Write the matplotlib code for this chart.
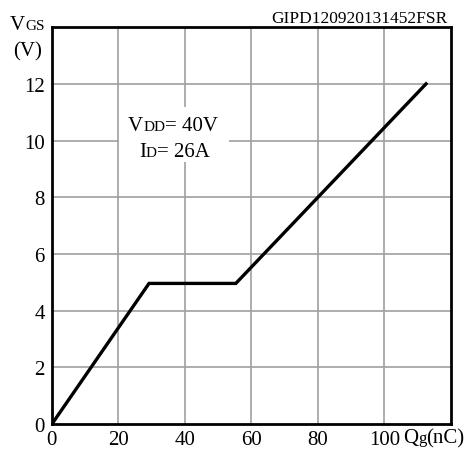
import matplotlib
matplotlib.use('Agg')
import matplotlib.pyplot as plt
from matplotlib.patches import Rectangle

plt.rcParams['font.family'] = ['Liberation Serif', 'DejaVu Serif']

# gate charge curve (Qg in nC, Vgs in V)
qg = [0, 29.2, 55.3, 112.5]
vgs = [0, 4.96, 4.96, 12.0]

x_ticks = [0, 20, 40, 60, 80, 100]
y_ticks = [0, 2, 4, 6, 8, 10, 12]
grid_x = [20, 40, 60, 80, 100]
grid_y = [2, 4, 6, 8, 10, 12]

fig = plt.figure(figsize=(4.72, 4.52), dpi=100)
ax = fig.add_axes([0.110, 0.0597, 0.8455, 0.878])
ax.set_xlim(0, 120)
ax.set_ylim(0, 14)

for gx in grid_x:
    ax.axvline(gx, color='#a0a0a0', lw=1.2, zorder=1)
for gy in grid_y:
    ax.axhline(gy, color='#a0a0a0', lw=1.2, zorder=1)

# white box behind the annotation
ax.add_patch(Rectangle((20.15, 9.25), 33.0, 1.95, facecolor='white',
                       edgecolor='none', zorder=2))

ax.plot(qg, vgs, color='black', lw=2.4, zorder=3, solid_joinstyle='miter')

for s in ax.spines.values():
    s.set_linewidth(2.0)
    s.set_zorder(4)

ax.set_xticks(x_ticks)
ax.set_yticks(y_ticks)
ax.tick_params(length=0, labelsize=15, pad=5)
ax.tick_params(axis='x', pad=4)

DESC = 0.217  # descent of the serif font, in em


def chain(parts, x, y):
    # draw text pieces one after the other on the same baseline
    prev = None
    prev_size = None
    for txt, size in parts:
        if prev is None:
            prev = fig.text(x, y, txt, fontsize=size, ha='left', va='baseline')
        else:
            prev = ax.annotate(txt, xy=(1, 0), xycoords=prev, fontsize=size,
                               xytext=(0, DESC * prev_size),
                               textcoords='offset points',
                               ha='left', va='baseline', annotation_clip=False)
        prev_size = size
    return prev


W, H = 472.0, 452.0

chain([('V', 15), ('GS', 11)], 10 / W, 1 - 30 / H)
fig.text(28 / W, 1 - 56 / H, '(V)', fontsize=15, ha='center', va='baseline')

chain([('V', 15), ('DD', 11), ('= 40V', 15)], 128 / W, 1 - 131 / H)
chain([('I', 15), ('D', 11), ('= 26A', 15)], 139 / W, 1 - 157 / H)

chain([('Q', 15), ('g', 12), ('(nC)', 15)], 403 / W, 1 - 443 / H)

fig.text(447 / W, 1 - 23 / H, 'GIPD120920131452FSR', fontsize=12.5,
         ha='right', va='baseline')

fig.savefig('out.png', dpi=100)
